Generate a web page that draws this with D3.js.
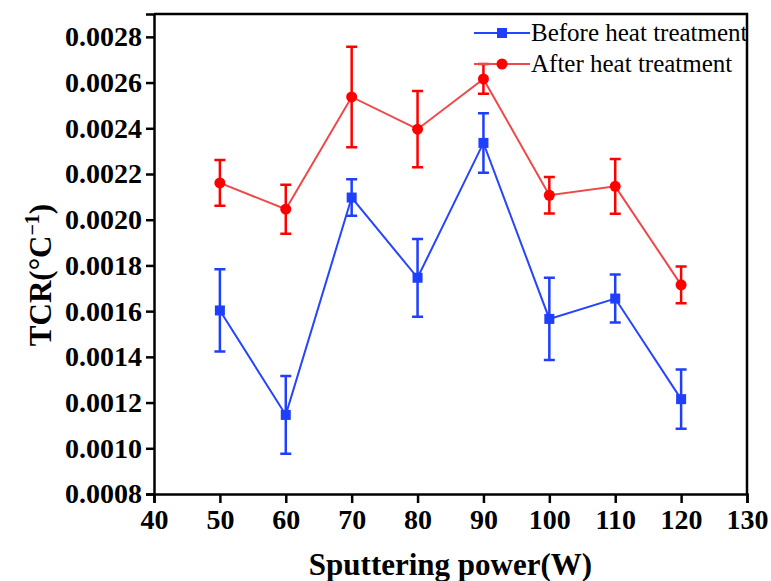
<!DOCTYPE html>
<html>
<head>
<meta charset="utf-8">
<script src="https://cdn.jsdelivr.net/npm/d3@7"></script>
<style>
  body { margin: 0; background: #fff; }
  svg { display: block; }
  text { font-family: "Liberation Serif", "Times New Roman", serif; }
</style>
</head>
<body>
<div id="chart"></div>
<script>
// data
const power = [50, 60, 70, 80, 90, 100, 110, 120];
const beforeTCR = [0.001603, 0.001146, 0.002097, 0.001746, 0.002336, 0.001566, 0.001655, 0.001215];
const beforeErr = [0.00018, 0.00017, 0.00008, 0.00017, 0.00013, 0.00018, 0.000105, 0.00013];
const afterTCR = [0.002161, 0.002046, 0.002537, 0.002396, 0.002616, 0.002107, 0.002146, 0.001715];
const afterErr = [0.0001, 0.000107, 0.00022, 0.000167, 0.000065, 0.00008, 0.00012, 0.00008];
const xTicks = [40, 50, 60, 70, 80, 90, 100, 110, 120, 130];
const yTicks = [0.0008, 0.0010, 0.0012, 0.0014, 0.0016, 0.0018, 0.0020, 0.0022, 0.0024, 0.0026, 0.0028];

const W = 771, H = 581;
const margin = { top: 14, right: 24, bottom: 87, left: 154 },
      width = W - margin.left - margin.right,
      height = H - margin.top - margin.bottom;

const svg = d3.select("#chart").append("svg")
  .attr("width", W).attr("height", H);

const g = svg.append("g")
  .attr("transform", `translate(${margin.left},${margin.top})`);

const x = d3.scaleLinear().domain([40, 130]).range([0, width]);
const y = d3.scaleLinear().domain([0.0008, 0.0029]).range([height, 0]);

// axes
const xAxis = g.append("g")
  .attr("transform", `translate(0,${height})`)
  .call(d3.axisBottom(x).tickValues(xTicks).tickSize(9).tickPadding(6).tickFormat(d3.format("d")));
const yAxis = g.append("g")
  .call(d3.axisLeft(y).tickValues(yTicks).tickSize(8).tickPadding(4).tickFormat(d3.format(".4f")));

[xAxis, yAxis].forEach(a => {
  a.select(".domain").attr("stroke", "#000").attr("stroke-width", 2.5);
  a.selectAll(".tick line").attr("stroke", "#000").attr("stroke-width", 2.5);
  a.selectAll(".tick text")
    .attr("fill", "#000")
    .style("font-family", "'Liberation Serif', serif")
    .style("font-weight", "bold")
    .style("font-size", "28px");
});

// frame top & right
g.append("path")
  .attr("d", `M0,0H${width}V${height}`)
  .attr("fill", "none").attr("stroke", "#000").attr("stroke-width", 2.5);

// axis titles
svg.append("text")
  .attr("x", margin.left + width / 2)
  .attr("y", 575)
  .attr("text-anchor", "middle")
  .style("font-weight", "bold").style("font-size", "31px")
  .text("Sputtering power(W)");

const yl = svg.append("text")
  .attr("transform", "translate(51,275) rotate(-90)")
  .attr("text-anchor", "middle")
  .style("font-weight", "bold").style("font-size", "31px");
yl.append("tspan").text("TCR(°C");
yl.append("tspan").attr("dy", -12).style("font-size", "20px").text("−1");
yl.append("tspan").attr("dy", 12).text(")");

// series
const series = [
  { name: "Before heat treatment", vals: beforeTCR, errs: beforeErr, line: "#2444ff", mark: "#1f3fff", shape: "square" },
  { name: "After heat treatment", vals: afterTCR, errs: afterErr, line: "#f04848", mark: "#ff0000", shape: "circle" }
];

const line = d3.line().x(d => x(d.p)).y(d => y(d.v));

series.forEach(s => {
  const pts = power.map((p, i) => ({ p, v: s.vals[i], e: s.errs[i] }));

  g.append("path").datum(pts)
    .attr("fill", "none").attr("stroke", s.line).attr("stroke-width", 2)
    .attr("d", line);

  const eb = g.append("g").attr("stroke", s.mark).attr("stroke-width", 2.5).attr("fill", "none");
  pts.forEach(d => {
    const cx = x(d.p), y1 = y(d.v + d.e), y2 = y(d.v - d.e);
    eb.append("path").attr("d", `M${cx},${y1}V${y2}M${cx - 5.5},${y1}H${cx + 5.5}M${cx - 5.5},${y2}H${cx + 5.5}`);
  });

  if (s.shape === "square") {
    g.selectAll(null).data(pts).enter().append("rect")
      .attr("x", d => x(d.p) - 5).attr("y", d => y(d.v) - 5)
      .attr("width", 10).attr("height", 10).attr("fill", s.mark);
  } else {
    g.selectAll(null).data(pts).enter().append("circle")
      .attr("cx", d => x(d.p)).attr("cy", d => y(d.v))
      .attr("r", 5.5).attr("fill", s.mark);
  }
});

// legend
const legend = svg.append("g");
series.forEach((s, i) => {
  const ly = 33 + i * 31;
  legend.append("line").attr("x1", 474).attr("x2", 530).attr("y1", ly).attr("y2", ly)
    .attr("stroke", s.line).attr("stroke-width", 2);
  if (s.shape === "square") {
    legend.append("rect").attr("x", 497).attr("y", ly - 5).attr("width", 10).attr("height", 10).attr("fill", s.mark);
  } else {
    legend.append("circle").attr("cx", 502).attr("cy", ly).attr("r", 5.5).attr("fill", s.mark);
  }
  legend.append("text").attr("x", 531).attr("y", ly + 8)
    .style("font-size", "25px").attr("fill", "#000").text(s.name);
});
</script>
</body>
</html>
